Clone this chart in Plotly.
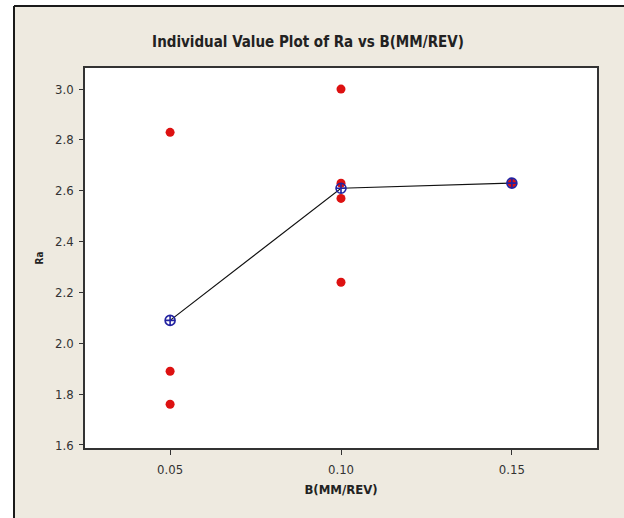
import plotly.graph_objects as go

# Data
levels = [0.05, 0.10, 0.15]
b005_values = [2.83, 1.89, 1.76]
b010_values = [3.00, 2.63, 2.57, 2.24]
b015_values = [2.63]
mean_values = [2.09, 2.61, 2.63]
x_ticks = [0.05, 0.10, 0.15]
x_tick_labels = ["0.05", "0.10", "0.15"]
y_ticks = [1.6, 1.8, 2.0, 2.2, 2.4, 2.6, 2.8, 3.0]
y_tick_labels = ["1.6", "1.8", "2.0", "2.2", "2.4", "2.6", "2.8", "3.0"]

xs = [levels[0]] * len(b005_values) + [levels[1]] * len(b010_values) + [levels[2]] * len(b015_values)
ys = b005_values + b010_values + b015_values

FONT = "DejaVu Sans Condensed, Liberation Sans Narrow, DejaVu Sans, sans-serif"
BEIGE = "#EEEAE0"

fig = go.Figure()
fig.add_trace(go.Scatter(
    x=levels, y=mean_values, mode="lines",
    line=dict(color="#111111", width=1.2), showlegend=False, hoverinfo="skip"))
fig.add_trace(go.Scatter(
    x=xs, y=ys, mode="markers",
    marker=dict(symbol="circle", size=9, color="#DD1111", line=dict(width=0)),
    showlegend=False))
fig.add_trace(go.Scatter(
    x=levels, y=mean_values, mode="markers",
    marker=dict(symbol="circle-cross-open", size=10, color="#2222A0",
                line=dict(width=1.6, color="#2222A0")),
    showlegend=False))

L, R, T, B = 85, 27, 68, 70
W, H = 624, 518
pw, ph = W - L - R, H - T - B

def px(x):
    return (x - L) / pw

def py(y):
    return (H - B - y) / ph

shapes = [
    dict(type="rect", xref="paper", yref="paper", x0=px(-20), x1=px(14), y0=py(540), y1=py(-20),
         fillcolor="white", line=dict(width=0), layer="below"),
    dict(type="rect", xref="paper", yref="paper", x0=px(-20), x1=px(640), y0=py(6), y1=py(-20),
         fillcolor="white", line=dict(width=0), layer="below"),
    dict(type="line", xref="paper", yref="paper", x0=px(14), x1=px(14), y0=py(540), y1=py(6),
         line=dict(color="#1a1a1a", width=2)),
    dict(type="line", xref="paper", yref="paper", x0=px(14), x1=px(640), y0=py(6), y1=py(6),
         line=dict(color="#1a1a1a", width=2)),
]

fig.update_layout(
    width=W, height=H,
    margin=dict(l=L, r=R, t=T, b=B),
    paper_bgcolor=BEIGE, plot_bgcolor="white",
    shapes=shapes,
    title=dict(text="<b>Individual Value Plot of Ra vs B(MM/REV)</b>",
               x=(308) / W, xanchor="center", y=1 - 42 / H, yanchor="middle", yref="container",
               font=dict(family=FONT, size=15, color="#222222")),
    xaxis=dict(range=[0.0251, 0.1749], tickvals=x_ticks, ticktext=x_tick_labels,
               showgrid=False, zeroline=False, showline=True, linecolor="#333333", linewidth=1.5,
               mirror=True, ticks="outside", ticklen=5, tickcolor="#333333",
               ticklabelstandoff=4,
               tickfont=dict(family=FONT, size=13, color="#333333"),
               title=dict(text="<b>B(MM/REV)</b>", font=dict(family=FONT, size=13, color="#222222"),
                          standoff=9)),
    yaxis=dict(range=[1.588, 3.083], tickvals=y_ticks, ticktext=y_tick_labels,
               showgrid=False, zeroline=False, showline=True, linecolor="#333333", linewidth=1.5,
               mirror=True, ticks="outside", ticklen=4, tickcolor="#333333",
               ticklabelstandoff=3,
               tickfont=dict(family=FONT, size=13, color="#333333"),
               title=dict(text="<b>Ra</b>", font=dict(family=FONT, size=10, color="#222222"),
                          standoff=10)),
)

fig.write_html("out.html")
